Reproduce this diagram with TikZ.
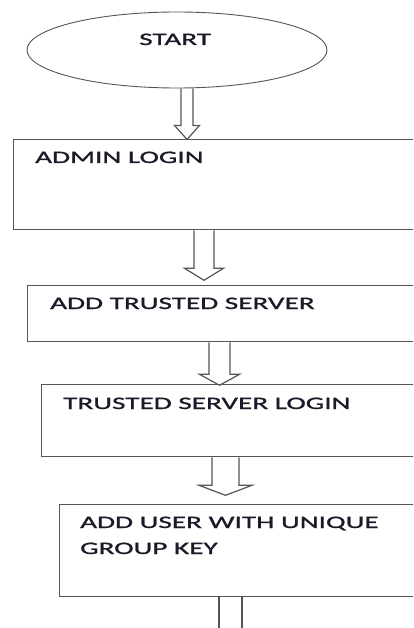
\documentclass[tikz,border=0pt]{standalone}
\usepackage{fontspec}
\newfontfamily\boxfont[FakeStretch=1.67,FakeBold=1.2]{Carlito}
\usetikzlibrary{shapes.geometric,calc}
\definecolor{linegray}{HTML}{555555}
\definecolor{txtcol}{HTML}{1A1A28}
\newcommand\harrow[5]{%
  \draw[hollowarrow] (#1) ++(-#2,0) -- ++(0,#3) -- ++(#2-#4,0) -- ++(#4,#5) -- ++(#4,-#5) -- ++(#2-#4,0) -- ++(0,-#3);}
\begin{document}
\begin{tikzpicture}[x=1pt,y=-1pt,
  boxstyle/.style={draw=linegray,line width=1.3pt,rectangle,anchor=north west,inner sep=0pt},
  lbl/.style={anchor=base west,inner sep=0pt,text=txtcol,font=\boxfont\fontsize{17.5}{26}\selectfont},
  hollowarrow/.style={draw=linegray,line width=1.2pt,line join=miter}]
\useasboundingbox (0,0) rectangle (413,628);
\clip (0,0) rectangle (413,628);
\fill[white] (0,0) rectangle (413,628);
\node[draw=linegray,line width=0.9pt,ellipse,minimum width=300pt,minimum height=76pt,inner sep=0pt] (start) at (177,50) {};
\node[lbl] (startlbl) at (139,45) {START};
\node[boxstyle,minimum width=420pt,minimum height=90pt] (b1) at (13,139) {};
\node[lbl] (b1lbl) at (35,163) {ADMIN LOGIN};
\node[boxstyle,minimum width=406pt,minimum height=56pt] (b2) at (27,285) {};
\node[lbl] (b2lbl) at (50,309) {ADD TRUSTED SERVER};
\node[boxstyle,minimum width=392pt,minimum height=72pt] (b3) at (41,384) {};
\node[lbl] (b3lbl) at (63,409) {TRUSTED SERVER LOGIN};
\node[boxstyle,minimum width=374pt,minimum height=92pt] (b4) at (59,504) {};
\node[lbl] (b4lbl) at (80,528) {ADD USER WITH UNIQUE};
\node[lbl] (b4lblb) at (80,554) {GROUP KEY};
\coordinate (x1) at (187,0);
\coordinate (x2) at (204,0);
\coordinate (x3) at (219.5,0);
\coordinate (x4) at (225.5,0);
\coordinate (x5) at (230.5,0);
\coordinate (a1) at (start.south -| x1);
\coordinate (a2) at (b1.south -| x2);
\coordinate (a3) at (b2.south -| x3);
\coordinate (a4) at (b3.south -| x4);
\coordinate (a5) at (b4.south -| x5);
\harrow{a1}{6}{37}{12.5}{14}
\harrow{a2}{10}{38}{19.5}{12}
\harrow{a3}{10.5}{32}{20}{11}
\harrow{a4}{13.5}{28}{26.5}{10}
\draw[hollowarrow] (a5) ++(-11.5,0) -- ++(0,40);
\draw[hollowarrow] (a5) ++(11.5,0) -- ++(0,40);
\end{tikzpicture}
\end{document}
